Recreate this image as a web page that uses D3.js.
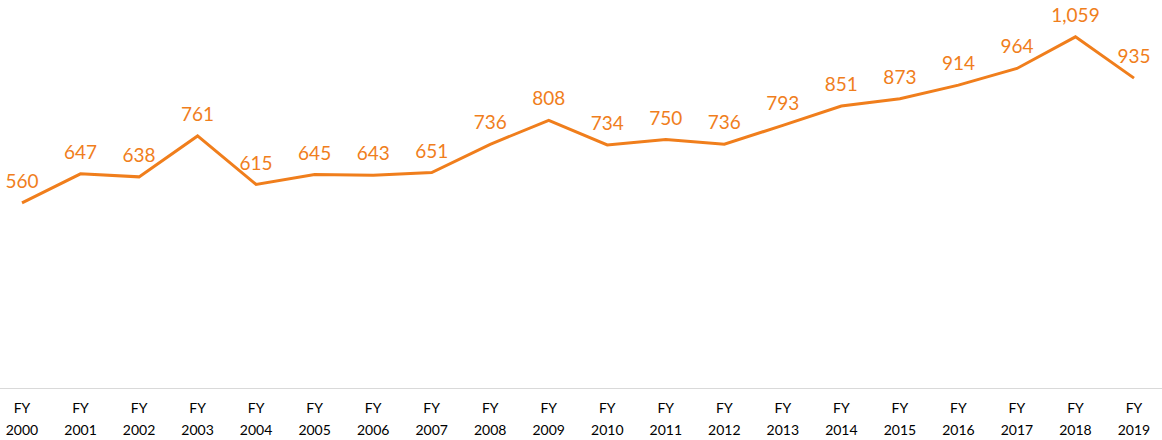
<!DOCTYPE html>
<meta charset="utf-8">
<title>FY line chart</title>
<script src="https://d3js.org/d3.v7.min.js"></script>
<style>
body { margin: 0; background: #fff; }
.lbl { font-family: Lato, "Noto Sans", sans-serif; }
</style>
<body>
<div id="chart"></div>
<script>
// data
var years = ["2000","2001","2002","2003","2004","2005","2006","2007","2008","2009",
             "2010","2011","2012","2013","2014","2015","2016","2017","2018","2019"];
var values = [560, 647, 638, 761, 615, 645, 643, 651, 736, 808,
              734, 750, 736, 793, 851, 873, 914, 964, 1059, 935];

var width = 1162, height = 440;
var orange = "#f07e1c";

var svg = d3.select("#chart")
  .append("svg")
    .attr("width", width)
    .attr("height", height);

var x = d3.scalePoint()
  .domain(years)
  .range([22, 1134]);

var y = d3.scaleLinear()
  .domain([0, 1200])
  .range([389, -10]);

// baseline
svg.append("line")
  .attr("x1", 0).attr("x2", width)
  .attr("y1", 388.5).attr("y2", 388.5)
  .attr("stroke", "#d9d9d9")
  .attr("stroke-width", 1);

// category labels, two lines each
var ticks = svg.append("g").attr("class", "lbl")
  .selectAll("text")
  .data(years)
  .enter()
  .append("text")
    .attr("x", function(d) { return x(d); })
    .attr("text-anchor", "middle")
    .attr("font-size", "14px")
    .attr("fill", "#000");
ticks.append("tspan").attr("x", function(d) { return x(d); }).attr("y", 413).text("FY");
ticks.append("tspan").attr("x", function(d) { return x(d); }).attr("y", 435).text(function(d) { return d; });

// the line
var line = d3.line()
  .x(function(d, i) { return x(years[i]); })
  .y(function(d) { return y(d); });

svg.append("path")
  .datum(values)
  .attr("d", line)
  .attr("fill", "none")
  .attr("stroke", orange)
  .attr("stroke-width", 3)
  .attr("stroke-linejoin", "miter");

// value labels above points
svg.append("g").attr("class", "lbl")
  .selectAll("text")
  .data(values)
  .enter()
  .append("text")
    .attr("x", function(d, i) { return x(years[i]); })
    .attr("y", function(d) { return y(d) - 15; })
    .attr("text-anchor", "middle")
    .attr("font-size", "19px")
    .attr("fill", orange)
    .text(function(d) { return d3.format(",")(d); });
</script>
</body>
